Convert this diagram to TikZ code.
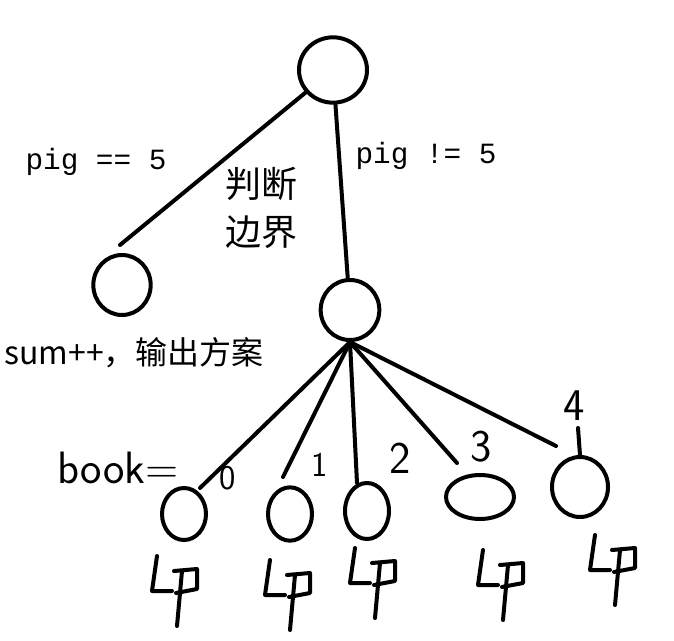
\documentclass[tikz,border=0pt]{standalone}
\usepackage{fontspec}
\setmainfont{Liberation Sans}
\newfontfamily\cjk{Noto Sans CJK SC}
\newfontfamily\mono{Liberation Mono}
\usetikzlibrary{shapes.geometric}
\begin{document}
\begin{tikzpicture}[x=0.75pt,y=-0.75pt,line width=3pt,line cap=round,line join=round,
  nd/.style={draw,ellipse,line width=3pt,inner sep=0pt},
  lab/.style={font=\mono\fontsize{22}{26}\selectfont},
  hand/.style={font=\sffamily\fontsize{34}{36}\selectfont},
  glyph/.pic={\draw (5,0) -- (0,35) -- (20,35);
    \draw (22,15) -- (45,13) -- (45,33) -- (24,37); \draw (30,15) -- (25,70);}]
\useasboundingbox (0,0) rectangle (674,641);
\node[nd,minimum width=51pt,minimum height=49pt] (r) at (333,70) {};
\node[nd,minimum width=43pt,minimum height=45pt] (l) at (122,285) {};
\node[nd,minimum width=44pt,minimum height=45pt] (m) at (350,310) {};
\node[nd,minimum width=33pt,minimum height=39pt] (c0) at (184,514) {};
\node[nd,minimum width=33pt,minimum height=40pt] (c1) at (290,514) {};
\node[nd,minimum width=33pt,minimum height=42pt] (c2) at (367,511) {};
\node[nd,minimum width=51pt,minimum height=33pt] (c3) at (480,497) {};
\node[nd,minimum width=42pt,minimum height=45pt] (c4) at (580,487) {};
\coordinate (le) at (120,245);
\draw (r) -- (le);
\draw (r) -- (m);
\coordinate (e0) at (200,488);
\coordinate (e1) at (283,477);
\coordinate (e2) at (357,483);
\coordinate (e3) at (457,463);
\coordinate (e4) at (556,446);
\foreach \e in {e0,e1,e2,e3,e4} \draw (m.south) -- (\e);
\node[lab] (t1) at (96,162) {pig == 5};
\node[lab] (t2) at (426,156) {pig != 5};
\node[font=\cjk\fontsize{27}{36}\selectfont,align=left] (t3) at (261,208) {判断\\边界};
\node[font=\cjk\fontsize{24}{28}\selectfont] (t4) at (134,353) {sum++，输出方案};
\node[hand] (b) at (118,468) {book=};
\node[hand,font=\sffamily\fontsize{26}{28}\selectfont] (h0) at (228,478) {0};
\node[hand,font=\sffamily\fontsize{26}{28}\selectfont] (h1) at (320,465) {1};
\node[hand] (h2) at (400,458) {2};
\node[hand] (h3) at (481,447) {3};
\node[hand] (h4) at (574,406) {4};
\coordinate (s4) at (578,428);
\draw (s4) -- (c4.north);
\pic at (152,556) {glyph};
\pic at (265,560) {glyph};
\pic at (350,548) {glyph};
\pic at (478,550) {glyph};
\pic at (590,535) {glyph};
\end{tikzpicture}
\end{document}
